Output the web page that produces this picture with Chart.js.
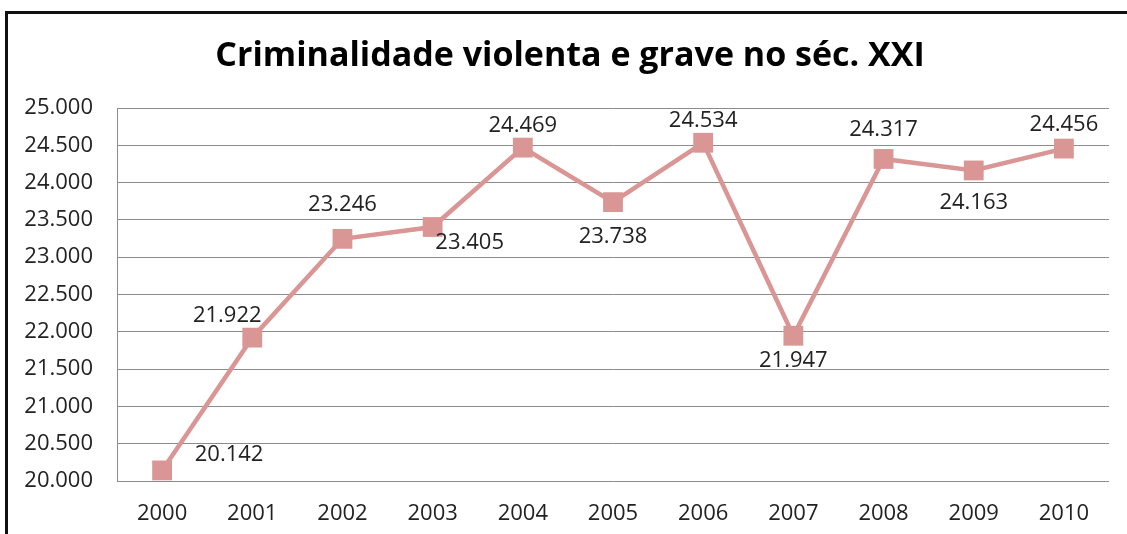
<!DOCTYPE html>
<html>
<head>
<meta charset="utf-8">
<script src="https://cdn.jsdelivr.net/npm/chart.js@4.4.1/dist/chart.umd.min.js"></script>
<style>
  html, body { margin: 0; padding: 0; background: #fff; }
  #wrap { width: 1127px; height: 534px; }
</style>
</head>
<body>
<div id="wrap"><canvas id="myChart" width="1127" height="534"></canvas></div>
<script>
const chartTitle = 'Criminalidade violenta e grave no séc. XXI';
const years = ['2000', '2001', '2002', '2003', '2004', '2005', '2006', '2007', '2008', '2009', '2010'];
const crimes = [20142, 21922, 23246, 23405, 24469, 23738, 24534, 21947, 24317, 24163, 24456];

const lineColor = '#D99694';
const fontFamily = '"Open Sans", "Liberation Sans", sans-serif';

// "20.142" style formatting
const fmt = (v) => {
  const s = String(Math.round(v));
  return s.slice(0, s.length - 3) + '.' + s.slice(-3);
};

// label offsets from the point, [dx, dy]
const labelOffsets = [[67, -16], [-25, -22], [0, -34], [37, 16], [0, -22], [0, 35], [0, -22], [0, 25], [0, -29], [0, 32], [0, -24]];

const framePlugin = {
  id: 'frame',
  beforeDraw(chart) {
    const ctx = chart.ctx;
    ctx.save();
    ctx.fillStyle = '#fff';
    ctx.fillRect(0, 0, chart.width, chart.height);
    ctx.strokeStyle = '#111';
    ctx.lineWidth = 3;
    ctx.beginPath();
    ctx.moveTo(6.5, chart.height + 5);
    ctx.lineTo(6.5, 12.5);
    ctx.lineTo(chart.width + 5, 12.5);
    ctx.stroke();
    // title
    ctx.fillStyle = '#000';
    ctx.font = 'bold 34px ' + fontFamily;
    ctx.textAlign = 'center';
    ctx.textBaseline = 'middle';
    ctx.fillText(chartTitle, 570, 56);
    ctx.restore();
  }
};

const labelPlugin = {
  id: 'valueLabels',
  afterDatasetsDraw(chart) {
    const ctx = chart.ctx;
    const meta = chart.getDatasetMeta(0);
    ctx.save();
    ctx.font = '22px ' + fontFamily;
    ctx.fillStyle = '#222';
    ctx.textAlign = 'center';
    ctx.textBaseline = 'middle';
    meta.data.forEach((pt, i) => {
      const off = labelOffsets[i];
      ctx.fillText(fmt(crimes[i]), pt.x + off[0], pt.y + off[1]);
    });
    ctx.restore();
  }
};

new Chart(document.getElementById('myChart'), {
  type: 'line',
  data: {
    labels: years,
    datasets: [{
      data: crimes,
      borderColor: lineColor,
      backgroundColor: lineColor,
      borderWidth: 4.5,
      pointStyle: 'rect',
      pointRadius: 14,
      pointHoverRadius: 14,
      pointBorderWidth: 0,
      tension: 0,
    }],
  },
  options: {
    responsive: false,
    animation: false,
    devicePixelRatio: 1,
    layout: { padding: { top: 108, right: 18, bottom: 0, left: 0 } },
    plugins: {
      legend: { display: false },
      tooltip: { enabled: false },
    },
    scales: {
      x: {
        offset: true,
        grid: { display: false, drawTicks: false },
        border: { display: false },
        ticks: { color: '#222', font: { family: fontFamily, size: 22 }, padding: 20 },
        afterFit(scale) { scale.height = 53; },
      },
      y: {
        min: 20000,
        max: 25000,
        grid: { color: '#8c8c8c', lineWidth: 1, drawTicks: false },
        border: { color: '#8c8c8c', width: 1 },
        ticks: {
          stepSize: 500,
          color: '#222',
          font: { family: fontFamily, size: 22 },
          padding: 24,
          callback: (v) => fmt(v),
        },
        afterFit(scale) { scale.width = 117; },
      },
    },
  },
  plugins: [framePlugin, labelPlugin],
});
</script>
</body>
</html>
